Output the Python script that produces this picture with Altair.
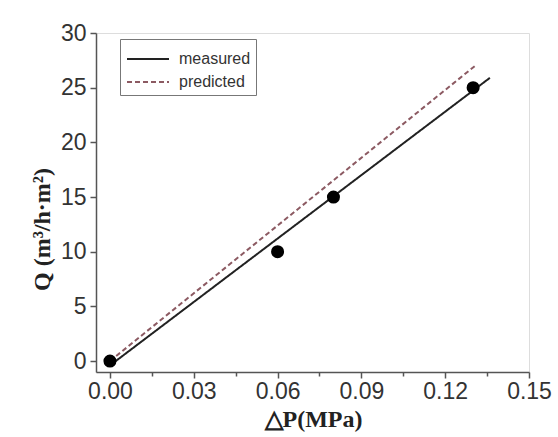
import altair as alt
import pandas as pd

# measured data points
dp = [0.0, 0.06, 0.08, 0.13]
q = [0.0, 10.0, 15.0, 25.0]

# fitted / predicted line end points
meas_x = [0.0, 0.136]
meas_y = [-0.4, 25.9]
pred_x = [0.0, 0.1307]
pred_y = [0.0, 27.0]

x_ticks = [0.0, 0.015, 0.03, 0.045, 0.06, 0.075, 0.09, 0.105, 0.12, 0.135, 0.15]
y_ticks = [0, 2.5, 5, 7.5, 10, 12.5, 15, 17.5, 20, 22.5, 25, 27.5, 30]

pts = pd.DataFrame({"x": dp, "y": q})
lines = pd.DataFrame({
    "x": meas_x + pred_x,
    "y": meas_y + pred_y,
    "series": ["measured"] * 2 + ["predicted"] * 2,
})

x_major = "abs(datum.value/0.03 - round(datum.value/0.03)) < 0.01"
y_major = "abs(datum.value/5 - round(datum.value/5)) < 0.01"

xs = alt.Scale(domain=[-0.005, 0.15], nice=False, zero=False)
ys = alt.Scale(domain=[-1, 30], nice=False, zero=False)

x_axis = alt.Axis(
    values=x_ticks, title="△P(MPa)", grid=False,
    labelExpr=f"{x_major} ? format(datum.value, '.2f') : ''",
    labelOverlap=False, labelFont="Liberation Sans", labelFontSize=23,
    labelColor="#333", labelPadding=2, labelFlush=False,
    tickSize={"expr": f"{x_major} ? 6 : 4"}, tickColor="#555", tickWidth=1.5,
    domainColor="#555", domainWidth=1.5,
    titleFont="Liberation Serif", titleFontWeight="bold", titleFontSize=24,
    titleColor="#222", titlePadding=4, titleX=217,
)
y_axis = alt.Axis(
    values=y_ticks, title="Q (m³/h·m²)", grid=False,
    labelExpr=f"{y_major} ? format(datum.value, 'd') : ''",
    labelOverlap=False, labelFont="Liberation Sans", labelFontSize=23,
    labelColor="#333", labelPadding=4, labelFlush=False,
    tickSize={"expr": f"{y_major} ? 6 : 4"}, tickColor="#555", tickWidth=1.5,
    domainColor="#555", domainWidth=1.5,
    titleFont="Liberation Serif", titleFontWeight="bold", titleFontSize=24,
    titleColor="#222", titlePadding=6, titleY=196,
)

line_chart = alt.Chart(lines).mark_line(strokeWidth=2).encode(
    x=alt.X("x:Q", scale=xs, axis=x_axis),
    y=alt.Y("y:Q", scale=ys, axis=y_axis),
    color=alt.Color(
        "series:N",
        scale=alt.Scale(domain=["measured", "predicted"], range=["#222222", "#8c5a62"]),
        legend=alt.Legend(
            title=None, orient="none", legendX=24, legendY=6,
            symbolType="M-1.5,0L1.5,0", symbolSize=784, symbolStrokeWidth=2,
            symbolOffset=8,
            labelFont="Liberation Sans", labelFontSize=16, labelColor="#333",
            strokeColor="#777", padding=5, rowPadding=0, labelOffset=16,
            fillColor="white",
        ),
    ),
    strokeDash=alt.StrokeDash(
        "series:N",
        scale=alt.Scale(domain=["measured", "predicted"], range=[[1, 0], [5, 3]]),
        legend=None,
    ),
)

point_chart = alt.Chart(pts).mark_circle(size=170, color="black", opacity=1).encode(
    x=alt.X("x:Q", scale=xs),
    y=alt.Y("y:Q", scale=ys),
)

chart = alt.layer(line_chart, point_chart).properties(
    width=433, height=339,
    padding={"left": 96, "top": 33, "right": 29, "bottom": 65},
    autosize="none",
).configure_view(stroke=None).configure(background="white")

chart.save("out.html", embed_options={"renderer": "svg", "actions": False})
